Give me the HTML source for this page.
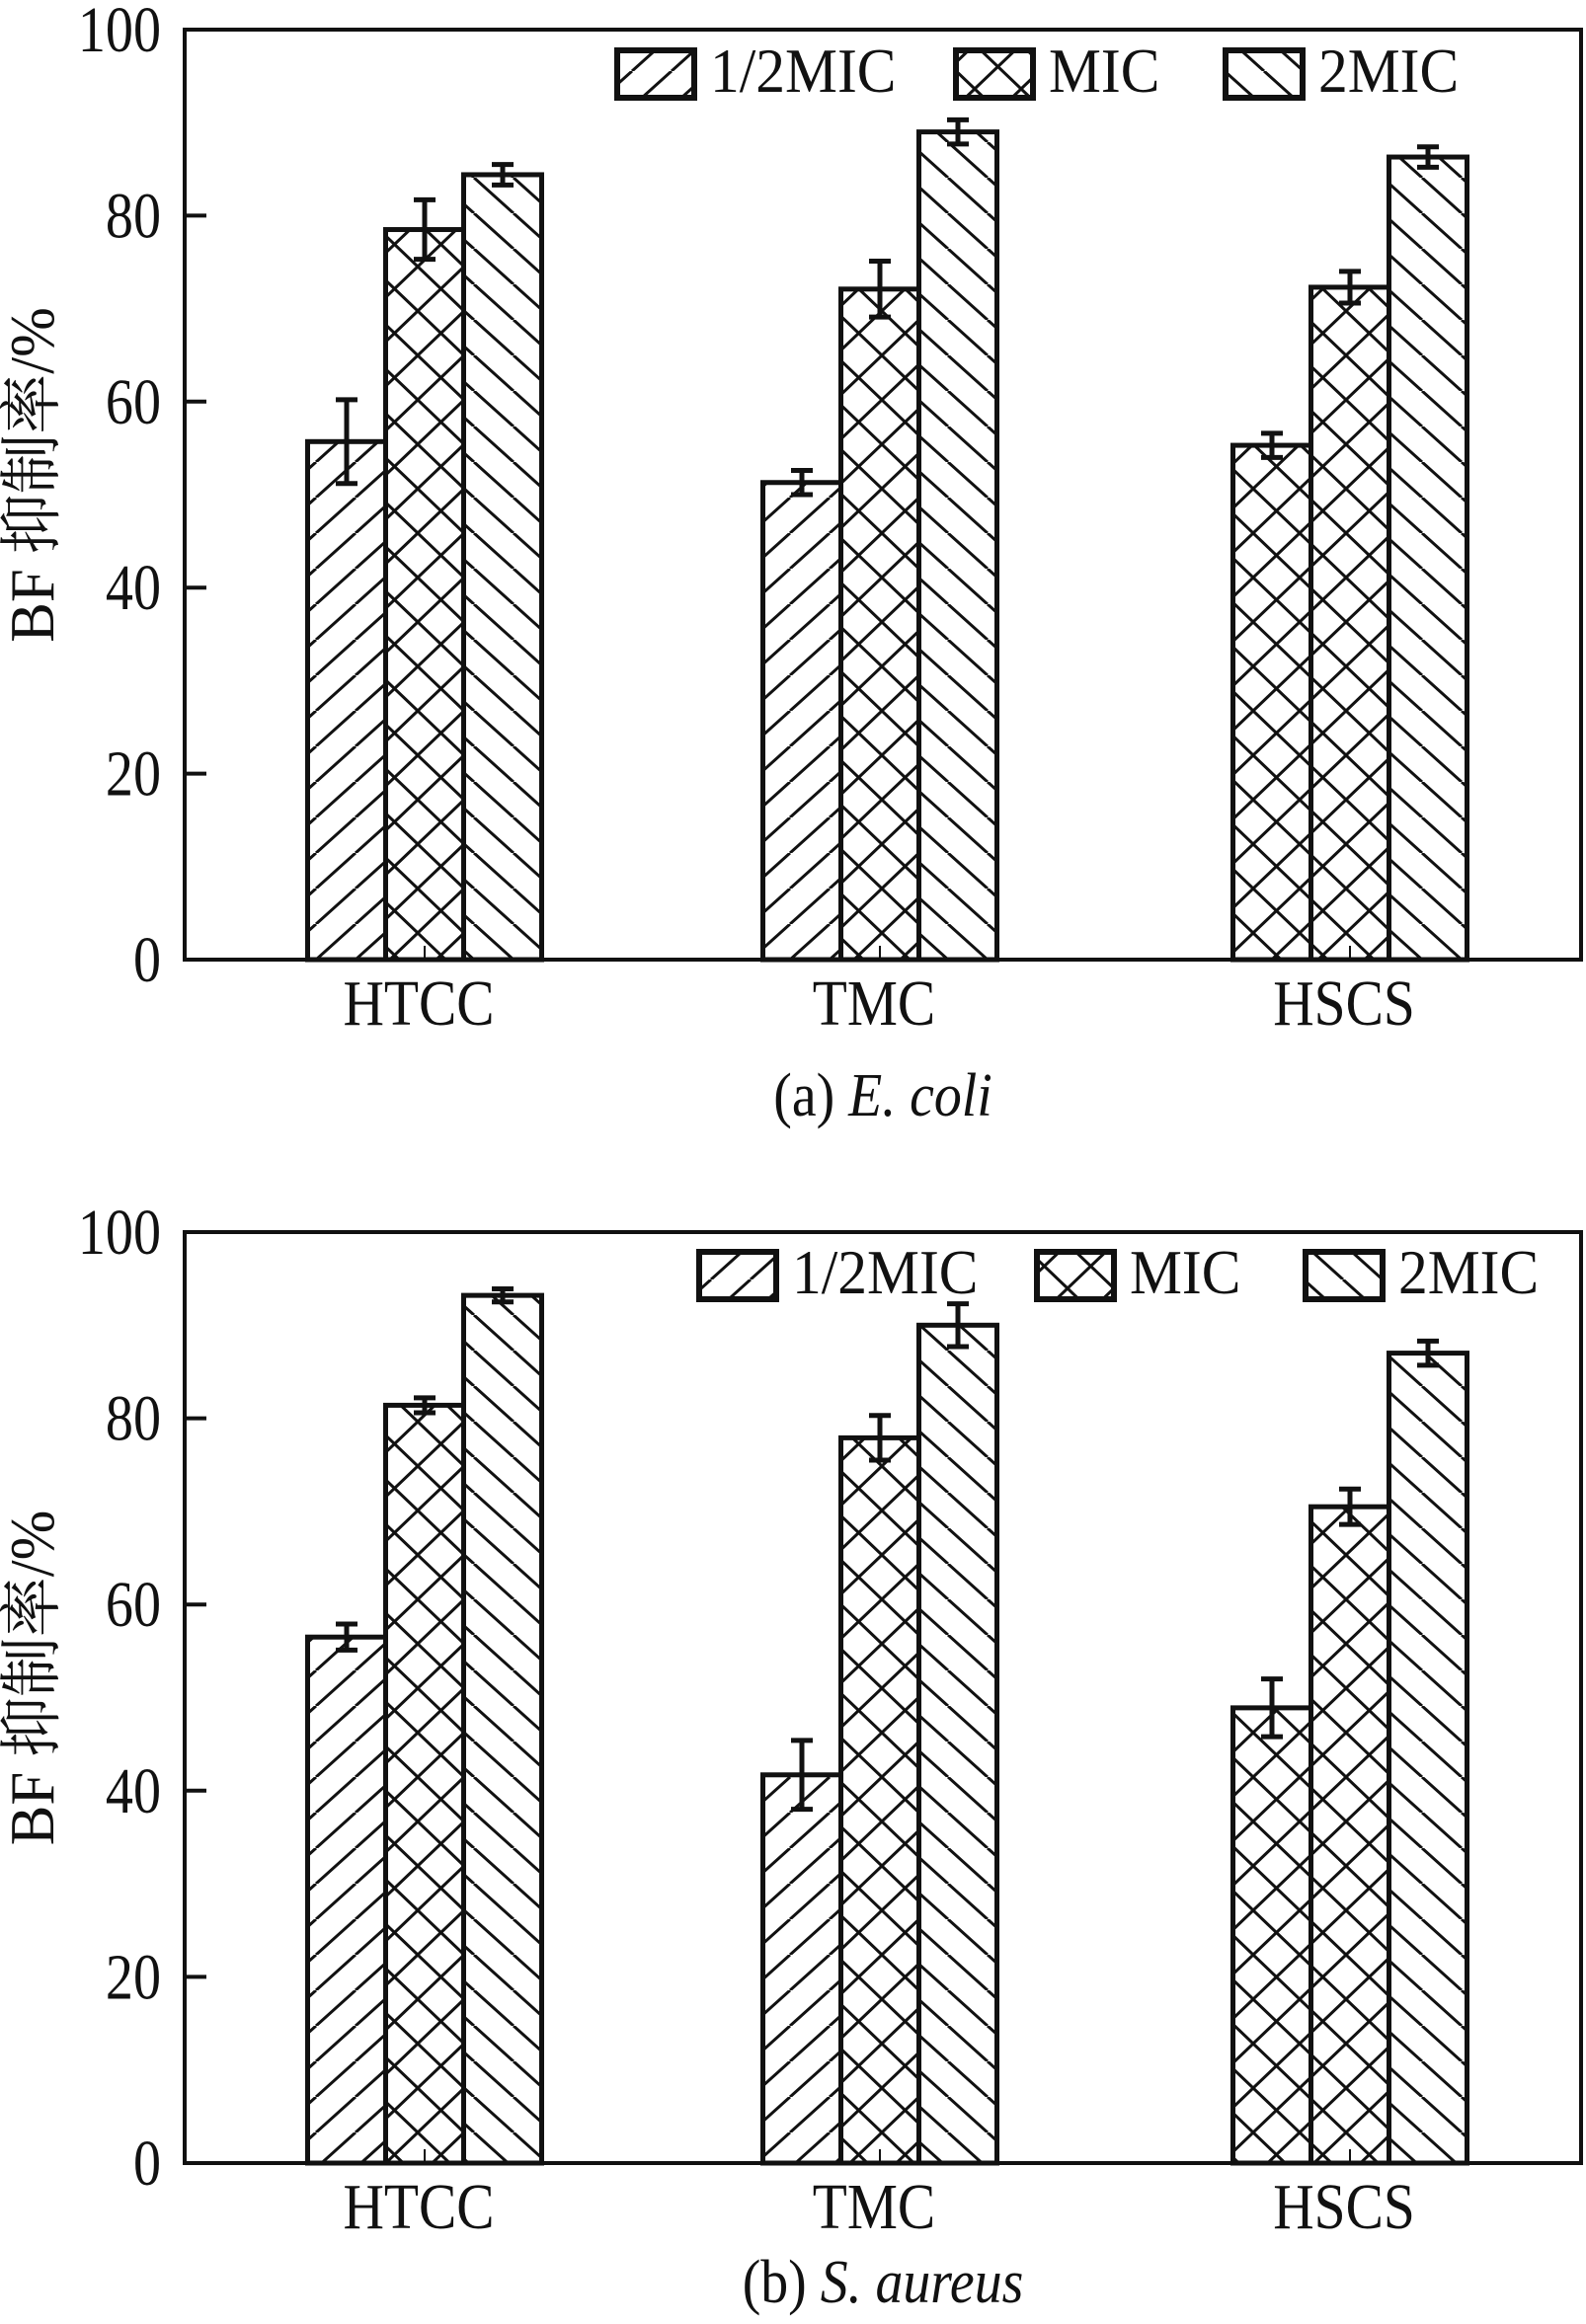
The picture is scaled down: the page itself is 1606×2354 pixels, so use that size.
<!DOCTYPE html>
<html><head><meta charset="utf-8"><style>
html,body{margin:0;padding:0;background:#fff;}
svg{display:block;}
text{font-family:"Liberation Serif","Noto Serif CJK SC",serif;fill:#111;}
</style></head><body>
<svg id="chart" width="1606" height="2354" viewBox="0 0 1606 2354" xmlns="http://www.w3.org/2000/svg">
<defs>
<pattern id="hatchFwd" patternUnits="userSpaceOnUse" width="40" height="36">
<path d="M-40,36 L0,0 M0,36 L40,0 M40,36 L80,0" stroke="#111" stroke-width="3"/>
</pattern>
<pattern id="hatchBack" patternUnits="userSpaceOnUse" width="40" height="36">
<path d="M-40,0 L0,36 M0,0 L40,36 M40,0 L80,36" stroke="#111" stroke-width="3"/>
</pattern>
<pattern id="hatchCross" patternUnits="userSpaceOnUse" width="47" height="45">
<path d="M-47,45 L0,0 M0,45 L47,0 M47,45 L94,0 M-47,0 L0,45 M0,0 L47,45 M47,0 L94,45" stroke="#111" stroke-width="3"/>
</pattern>
</defs>
<g id="panels"></g>
</svg>
<script>
const categories = ["HTCC", "TMC", "HSCS"];
const seriesNames = ["1/2MIC", "MIC", "2MIC"];
const yTicks = [0, 20, 40, 60, 80, 100];
const ecoliValues = [[55.7, 78.5, 84.4], [51.3, 72.1, 89.0], [55.3, 72.3, 86.3]];
const ecoliErrors = [[4.5, 3.2, 1.1], [1.3, 3.0, 1.3], [1.3, 1.7, 1.1]];
const saureusValues = [[56.5, 81.4, 93.2], [41.7, 77.9, 90.0], [48.9, 70.5, 87.0]];
const saureusErrors = [[1.4, 0.8, 0.7], [3.7, 2.4, 2.3], [3.1, 1.9, 1.3]];
const ecoliPatterns = [["hatchFwd","hatchCross","hatchBack"],["hatchFwd","hatchCross","hatchBack"],["hatchCross","hatchCross","hatchBack"]];
const saureusPatterns = [["hatchFwd","hatchCross","hatchBack"],["hatchFwd","hatchCross","hatchBack"],["hatchCross","hatchCross","hatchBack"]];
const legendPatterns = ["hatchFwd","hatchCross","hatchBack"];
const groupCenters = [430, 891, 1367];

const NS = "http://www.w3.org/2000/svg";
const root = document.getElementById("panels");
function mk(tag, attrs, parent, txt){
  const e = document.createElementNS(NS, tag);
  for (const k in attrs) e.setAttribute(k, attrs[k]);
  if (txt !== undefined) e.textContent = txt;
  parent.appendChild(e);
  return e;
}
function stxt(x, y, size, anchor, parent, txt, sx){
  return mk("text", {x: 0, y: 0, "font-size": size, "text-anchor": anchor, transform: `translate(${x},${y}) scale(${sx || 0.85},1)`}, parent, txt);
}

function panel(cfg){
  const g = mk("g", {}, root);
  
  
  const L = 187, R = 1601, T = cfg.top, B = cfg.bottom;
  const y = v => B - (v / 100) * (B - T);
  const xc = i => groupCenters[i];
  const bw = 79;
  cfg.values.forEach((grp, ci) => {
    grp.forEach((v, si) => {
      const x0 = xc(ci) - 1.5 * bw + si * bw;
      const r = mk("rect", {x: x0, y: y(v), width: bw, height: B - y(v), fill: "url(#" + cfg.patterns[ci][si] + ")", stroke: "#111", "stroke-width": 5}, g);
      
      
      const e = cfg.errors[ci][si], cx = x0 + bw / 2;
      const eb = mk("path", {d: `M${cx},${y(v+e)} L${cx},${y(v-e)} M${cx-11},${y(v+e)} L${cx+11},${y(v+e)} M${cx-11},${y(v-e)} L${cx+11},${y(v-e)}`, stroke: "#111", "stroke-width": 5, fill: "none"}, g);
      
      
    });
    const mt = mk("line", {x1: xc(ci), x2: xc(ci), y1: B, y2: B - 14, stroke: "#111", "stroke-width": 2}, g);
    
    
    const cl = stxt(xc(ci) - 6, B + 66, 66, "middle", g, categories[ci], 0.87);
    
    
  });
  const fr = mk("rect", {x: L, y: T, width: R - L, height: B - T, fill: "none", stroke: "#111", "stroke-width": 4}, g);
  
  
  yTicks.forEach(t => {
    if (t > 0 && t < 100) {
      const tk = mk("line", {x1: L, x2: L + 22, y1: y(t), y2: y(t), stroke: "#111", "stroke-width": 4}, g);
      
      
    }
    const tl = stxt(163, y(t) + 22, 66, "end", g, String(t));
    
    
  });
  const yt = mk("text", {x: 0, y: 0, "font-size": 64, "text-anchor": "middle", transform: `translate(54,${(T+B)/2 - 20}) rotate(-90) scale(0.95,1)`}, g, "BF 抑制率/%");
  
  
  cfg.legendX.forEach((lx, i) => {
    const lg = mk("g", {}, g);
    
    
    mk("rect", {x: lx, y: cfg.legendY, width: 78, height: 48, fill: "url(#" + legendPatterns[i] + ")", stroke: "#111", "stroke-width": 6}, lg);
    stxt(lx + 94, cfg.legendY + 42, 64, "start", lg, seriesNames[i], 0.93);
  });
  const cap = document.createElementNS(NS, "text");
  cap.setAttribute("x", 0); cap.setAttribute("y", 0); cap.setAttribute("font-size", 62); cap.setAttribute("text-anchor", "middle");
  cap.setAttribute("transform", `translate(894,${cfg.captionY}) scale(0.9,1)`);
  
  
  cap.appendChild(document.createTextNode(cfg.capA + " "));
  const it = document.createElementNS(NS, "tspan"); it.setAttribute("font-style", "italic"); it.textContent = cfg.capB;
  cap.appendChild(it);
  g.appendChild(cap);
}

panel({name: "panel-e-coli", top: 30, bottom: 972, values: ecoliValues, errors: ecoliErrors, patterns: ecoliPatterns,
  legendX: [625, 968, 1241], legendY: 51, captionY: 1130, capA: "(a)", capB: "E. coli"});
panel({name: "panel-s-aureus", top: 1248, bottom: 2191, values: saureusValues, errors: saureusErrors, patterns: saureusPatterns,
  legendX: [708, 1050, 1322], legendY: 1268, captionY: 2332, capA: "(b)", capB: "S. aureus"});
</script>
</body></html>
